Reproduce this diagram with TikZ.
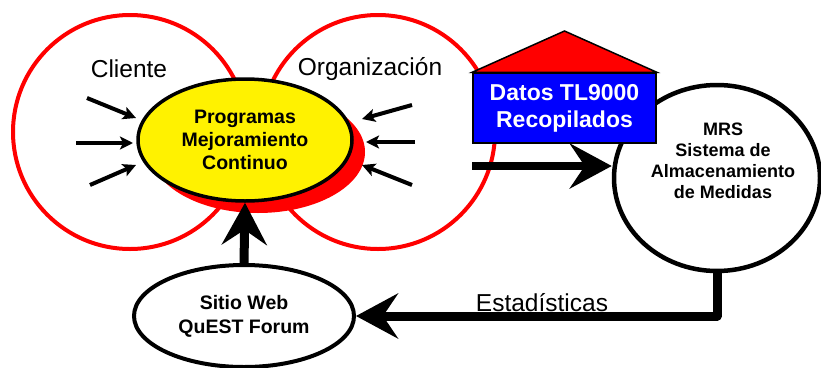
\documentclass[tikz,border=0pt]{standalone}
\usepackage{fontspec}
\setmainfont{Liberation Sans}
\usetikzlibrary{arrows.meta,shapes.geometric,positioning}

\begin{document}
\begin{tikzpicture}[x=1pt, y=-1pt,
  zona/.style={circle, draw=red, line width=4pt, minimum size=234pt, inner sep=0pt},
  zonatxt/.style={font=\fontsize{24.5}{28}\selectfont},
  burbuja/.style={ellipse, draw=black, line width=4pt, fill=white, inner sep=0pt, align=center},
  flechita/.style={line width=4pt, -{Stealth[length=13pt, width=13pt, inset=3pt]}},
  flechota/.style={line width=9pt, line join=round, -{Stealth[length=42pt, width=45pt, inset=15pt]}}]
  \useasboundingbox (0,0) rectangle (821,367);

  % Cliente / Organizacion
  \node[zona] (cliente) at (130,132) {};
  \node[zona] (org) at (378,132) {};
  \node[zonatxt] (clientetxt) at (129,69) {Cliente};
  \node[zonatxt] (orgtxt) at (370,69) {Organización};

  % Programas de mejoramiento (with red shadow)
  \node[ellipse, fill=red, minimum width=214pt, minimum height=122pt] (sombra) at (258,152) {};
  \node[burbuja, fill=yellow, line width=3.5pt, minimum width=214pt, minimum height=122pt,
        font=\bfseries\fontsize{19.5}{23}\selectfont] (prog) at (245,140)
        {Programas\\Mejoramiento\\Continuo};

  % small arrows into the ellipse
  \coordinate (c1) at (87,98);   \coordinate (p1) at (136,118);
  \coordinate (c2) at (76,143);  \coordinate (p2) at (133,143);
  \coordinate (c3) at (90,185);  \coordinate (p3) at (136,165);
  \coordinate (o1) at (412,105); \coordinate (q1) at (362,119);
  \coordinate (o2) at (415,142); \coordinate (q2) at (366,142);
  \coordinate (o3) at (412,185); \coordinate (q3) at (362,165);
  \foreach \a/\b in {c1/p1, c2/p2, c3/p3, o1/q1, o2/q2, o3/q3}
    \draw[flechita] (\a) -- (\b);

  % MRS
  \node[burbuja, line width=4.5pt, minimum width=206pt, minimum height=186pt] (mrs) at (717,178) {};
  \node[align=center, font=\bfseries\fontsize{18}{21}\selectfont] (mrstxt) at (723,161)
        {MRS\\Sistema de\\Almacenamiento\\de Medidas};

  % datos -> MRS (drawn under the box)
  \coordinate (datosout) at (472,166);
  \draw[flechota, line width=8pt] (datosout) -- (datosout -| mrs.west);

  % Datos TL9000
  \node[rectangle, draw=black, line width=1.5pt, fill=blue, text=white, align=center,
        minimum width=183pt, minimum height=70pt, inner sep=0pt,
        font=\bfseries\fontsize{23}{27}\selectfont] (datos) at (564.5,108)
        {Datos TL9000\\Recopilados};
  \coordinate (techo) at (564.5,31);
  \draw[line width=1.5pt, fill=red] (datos.north west) -- (techo) -- (datos.north east) -- cycle;

  % Sitio Web
  \node[burbuja, minimum width=220pt, minimum height=102pt,
        font=\bfseries\fontsize{19.5}{24}\selectfont] (sitio) at (244,316)
        {Sitio Web\\QuEST Forum};

  % flows
  \draw[flechota] (sitio.north) -- (prog.south);
  \draw[flechota] (mrs.south) |- (sitio.east);
  \node[zonatxt] (estad) at (542,303) {Estadísticas};
\end{tikzpicture}
\end{document}
